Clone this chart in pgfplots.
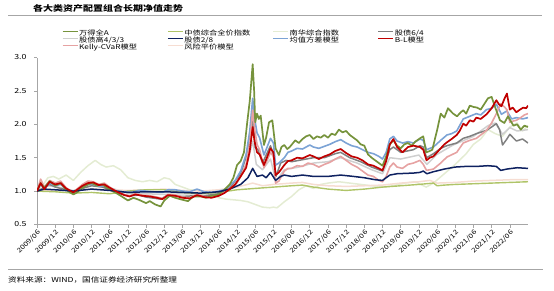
\documentclass[border=0pt]{standalone}
\usepackage{fontspec}
\setmainfont{Noto Sans CJK SC}[FakeStretch=1.25]
\usepackage{pgfplots}
\pgfplotsset{compat=1.18}
\definecolor{cWande}{HTML}{76933C}
\definecolor{cZhongzhai}{HTML}{AFC468}
\definecolor{cNanhua}{HTML}{E4ECD3}
\definecolor{cSixfour}{HTML}{808080}
\definecolor{cFourthree}{HTML}{CFCFCF}
\definecolor{cTwoeight}{HTML}{0E2160}
\definecolor{cMv}{HTML}{7CA3D5}
\definecolor{cBL}{HTML}{C00000}
\definecolor{cKelly}{HTML}{E6A2A2}
\definecolor{cRp}{HTML}{F6DDD2}
\definecolor{axgray}{HTML}{A6A6A6}
\begin{document}
\begin{tikzpicture}
\useasboundingbox (0pt,0pt) rectangle (554pt,290pt);
\node[anchor=west, inner sep=0pt, font=\fontsize{8}{8}\selectfont\bfseries] at (33pt,282pt) {各大类资产配置组合长期净值走势};
\draw[axgray, line width=0.9pt] (8pt,275pt) -- (542pt,275pt);
\draw[axgray, line width=0.9pt] (8pt,21pt) -- (543pt,21pt);
\node[anchor=west, inner sep=0pt, font=\fontsize{6.9}{6.9}\selectfont] at (8pt,10pt) {资料来源：WIND，国信证券经济研究所整理};
\begin{axis}[
  at={(37pt,65.5pt)}, anchor=south west,
  scale only axis, width=491pt, height=167pt,
  xmin=0, xmax=13.5, ymin=0.5, ymax=3.0,
  axis x line=bottom, axis y line=left,
  axis line style={draw=axgray, line width=0.7pt, -},
  tick align=outside, major tick length=3pt,
  tick style={axgray, line width=0.6pt},
  xtick={0,0.5,1,1.5,2,2.5,3,3.5,4,4.5,5,5.5,6,6.5,7,7.5,8,8.5,9,9.5,10,10.5,11,11.5,12,12.5,13},
  xticklabels={2009/06,2009/12,2010/06,2010/12,2011/06,2011/12,2012/06,2012/12,2013/06,2013/12,2014/06,2014/12,2015/06,2015/12,2016/06,2016/12,2017/06,2017/12,2018/06,2018/12,2019/06,2019/12,2020/06,2020/12,2021/06,2021/12,2022/06},
  xticklabel style={rotate=45, anchor=north east, font=\fontsize{6.4}{6.4}\selectfont, inner sep=1pt},
  ytick={0.5,1,1.5,2,2.5,3},
  yticklabel style={font=\fontsize{7}{7}\selectfont, xshift=-4pt},
  /pgf/number format/.cd, fixed, fixed zerofill, precision=1, assume math mode=true,
  /pgfplots/.cd,
  legend columns=4,
  legend cell align=left,
  legend image code/.code={\draw[#1] (0pt,2.2pt) -- (15pt,2.2pt); \path (16pt,0pt);},
  legend style={at={(0.0509,1.1587)}, anchor=north west, draw=none, fill=none,
    inner sep=0pt, outer sep=0pt, row sep=1.1pt, column sep=0pt,
    font=\fontsize{6.6}{6.6}\selectfont,
    nodes={inner sep=0pt, text height=4.6pt, text depth=1.1pt, text width=88pt, align=left}},
  every axis plot/.append style={line join=round},
]
\addlegendimage{cWande, line width=1.2pt}\addlegendentry{万得全A}
\addlegendimage{cZhongzhai, line width=1.2pt}\addlegendentry{中债综合全价指数}
\addlegendimage{cNanhua, line width=1.2pt}\addlegendentry{南华综合指数}
\addlegendimage{cSixfour, line width=1.2pt}\addlegendentry{股债6/4}
\addlegendimage{cFourthree, line width=1.2pt}\addlegendentry{股债高4/3/3}
\addlegendimage{cTwoeight, line width=1.2pt}\addlegendentry{股债2/8}
\addlegendimage{cMv, line width=1.2pt}\addlegendentry{均值方差模型}
\addlegendimage{cBL, line width=1.2pt}\addlegendentry{B-L模型}
\addlegendimage{cKelly, line width=1.2pt}\addlegendentry{Kelly-CVaR模型}
\addlegendimage{cRp, line width=1.2pt}\addlegendentry{风险平价模型}

% 南华综合指数
\addplot[forget plot, cNanhua, line width=1.5pt] coordinates {
(0,1.00)(0.15,1.08)(0.3,1.20)(0.45,1.22)(0.6,1.18)(0.8,1.24)(1.0,1.16)(1.2,1.28)(1.4,1.38)(1.6,1.46)(1.75,1.40)(1.9,1.36)(2.1,1.38)(2.3,1.32)(2.5,1.20)(2.7,1.16)(2.9,1.14)(3.1,1.16)(3.3,1.14)(3.5,1.20)(3.65,1.18)(3.8,1.10)(4.0,1.06)(4.2,1.02)(4.4,1.01)(4.6,0.98)(4.8,0.94)(5.0,0.90)(5.2,0.88)(5.4,0.87)(5.6,0.86)(5.8,0.84)(6.0,0.80)(6.2,0.76)(6.4,0.75)(6.5,0.76)(6.6,0.75)(6.8,0.84)(7.0,0.92)(7.2,1.02)(7.4,1.08)(7.6,1.04)(7.8,1.10)(8.0,1.12)(8.3,1.14)(8.6,1.12)(8.9,1.10)(9.2,1.08)(9.5,1.06)(9.8,1.08)(10.1,1.12)(10.4,1.14)(10.7,1.06)(10.9,1.12)(11.2,1.26)(11.5,1.40)(11.8,1.56)(12.0,1.70)(12.2,1.78)(12.4,1.92)(12.6,1.86)(12.8,1.82)(13.0,1.96)(13.2,2.02)(13.35,1.90)(13.5,1.98)};
% 股债高4/3/3
\addplot[forget plot, cFourthree, line width=1.5pt] coordinates {
(0,1.00)(0.3,1.08)(0.6,1.06)(1.0,1.00)(1.5,1.10)(2.0,1.05)(2.5,0.97)(3.0,0.96)(3.5,0.95)(4.0,0.96)(4.5,0.96)(5.0,0.97)(5.5,1.12)(5.8,1.45)(5.93,1.75)(6.03,1.40)(6.2,1.32)(6.42,1.48)(6.57,1.15)(6.8,1.32)(7.2,1.36)(7.6,1.42)(8.0,1.44)(8.35,1.50)(8.8,1.42)(9.2,1.32)(9.5,1.26)(9.7,1.50)(10.0,1.48)(10.5,1.54)(10.72,1.40)(11.0,1.55)(11.44,1.69)(12.0,1.82)(12.4,1.98)(12.6,2.02)(12.8,1.85)(13.0,1.95)(13.2,1.90)(13.5,1.92)};
% 风险平价
\addplot[forget plot, cRp, line width=1.5pt] coordinates {
(0,1.00)(0.5,1.02)(1.0,1.01)(1.5,1.03)(2.0,1.02)(2.5,1.01)(3.0,1.02)(3.5,1.03)(4.0,1.01)(4.5,1.00)(5.0,1.02)(5.5,1.06)(5.93,1.12)(6.2,1.08)(6.5,1.10)(7.0,1.12)(7.3,1.13)(7.6,1.10)(8.0,1.08)(8.5,1.07)(9.0,1.08)(9.5,1.09)(10.0,1.12)(10.5,1.14)(10.8,1.16)(11.0,1.12)(11.5,1.13)(12.0,1.15)(12.5,1.16)(13.0,1.17)(13.5,1.17)};
% 中债综合全价
\addplot[forget plot, cZhongzhai, line width=1.4pt] coordinates {
(0,1.00)(0.5,0.99)(1.0,0.97)(1.5,0.98)(2.0,0.96)(2.5,1.00)(3.0,1.02)(3.5,1.02)(4.0,0.98)(4.5,0.96)(5.0,0.98)(5.5,1.02)(6.0,1.04)(6.5,1.06)(7.0,1.08)(7.3,1.09)(7.6,1.06)(8.0,1.03)(8.5,1.01)(9.0,1.03)(9.5,1.06)(10.0,1.08)(10.5,1.10)(10.9,1.12)(11.0,1.08)(11.2,1.09)(11.5,1.10)(12.0,1.11)(12.5,1.12)(13.0,1.13)(13.5,1.14)};
% 股债6/4
\addplot[forget plot, cSixfour, line width=1.5pt] coordinates {
(0,1.00)(0.2,1.05)(0.35,1.10)(0.5,1.06)(0.8,1.02)(1.0,0.98)(1.25,1.04)(1.5,1.08)(1.8,1.06)(2.0,1.02)(2.3,0.96)(2.5,0.93)(2.8,0.94)(3.0,0.91)(3.4,0.88)(3.6,0.94)(4.0,0.92)(4.3,0.93)(4.6,0.93)(5.0,0.96)(5.3,1.05)(5.6,1.26)(5.8,1.60)(5.93,2.10)(6.0,1.65)(6.08,1.62)(6.2,1.42)(6.42,1.68)(6.5,1.55)(6.57,1.22)(6.7,1.42)(6.85,1.46)(7.0,1.44)(7.3,1.47)(7.6,1.50)(7.9,1.50)(8.2,1.56)(8.35,1.58)(8.6,1.50)(8.9,1.44)(9.2,1.36)(9.5,1.30)(9.7,1.62)(9.8,1.66)(10.0,1.58)(10.35,1.62)(10.53,1.68)(10.62,1.66)(10.71,1.50)(10.9,1.56)(11.1,1.64)(11.27,1.68)(11.54,1.72)(11.72,1.79)(11.9,1.82)(12.08,1.86)(12.36,1.91)(12.5,1.96)(12.63,2.01)(12.72,1.92)(12.8,1.69)(12.92,1.78)(13.0,1.85)(13.18,1.75)(13.35,1.78)(13.5,1.72)};
% 均值方差
\addplot[forget plot, cMv, line width=1.6pt] coordinates {
(0,1.00)(0.1,1.10)(0.2,1.04)(0.35,1.12)(0.5,1.08)(0.65,1.10)(0.8,1.03)(1.0,1.00)(1.25,1.06)(1.4,1.10)(1.55,1.10)(1.7,1.07)(1.85,1.08)(2.0,1.04)(2.2,1.00)(2.4,0.99)(2.6,0.98)(2.8,1.01)(3.0,1.00)(3.2,0.99)(3.45,0.98)(3.6,1.02)(3.8,1.02)(4.0,1.00)(4.2,0.99)(4.4,1.03)(4.6,0.99)(4.8,0.98)(5.0,1.00)(5.15,1.02)(5.3,1.08)(5.45,1.16)(5.6,1.30)(5.75,1.55)(5.85,1.90)(5.93,2.39)(5.98,2.10)(6.05,1.87)(6.12,1.80)(6.24,1.54)(6.32,1.65)(6.42,1.79)(6.5,1.72)(6.56,1.39)(6.65,1.42)(6.8,1.50)(6.9,1.58)(7.0,1.60)(7.15,1.64)(7.3,1.63)(7.5,1.69)(7.6,1.66)(7.75,1.64)(7.9,1.67)(8.05,1.70)(8.2,1.74)(8.35,1.77)(8.5,1.72)(8.65,1.68)(8.8,1.66)(8.95,1.62)(9.1,1.58)(9.25,1.56)(9.4,1.52)(9.5,1.48)(9.6,1.58)(9.7,1.78)(9.8,1.82)(9.9,1.75)(10.05,1.72)(10.2,1.74)(10.35,1.72)(10.53,1.78)(10.62,1.76)(10.71,1.62)(10.9,1.66)(11.1,1.76)(11.27,1.84)(11.4,1.86)(11.54,1.90)(11.72,2.08)(11.9,2.12)(12.08,2.16)(12.2,2.14)(12.36,2.22)(12.5,2.24)(12.63,2.30)(12.77,2.15)(12.92,2.20)(13.05,2.08)(13.18,2.10)(13.35,2.08)(13.5,2.10)};
% Kelly-CVaR
\addplot[forget plot, cKelly, line width=1.6pt] coordinates {
(0,1.00)(0.1,1.18)(0.2,1.06)(0.35,1.16)(0.5,1.12)(0.65,1.15)(0.8,1.05)(1.0,0.98)(1.1,1.03)(1.25,1.10)(1.4,1.15)(1.55,1.14)(1.7,1.10)(1.85,1.12)(2.0,1.06)(2.2,0.99)(2.4,0.95)(2.55,0.93)(2.7,0.96)(2.9,0.94)(3.1,0.93)(3.3,0.91)(3.45,0.89)(3.6,0.95)(3.8,0.94)(4.0,0.91)(4.2,0.90)(4.4,0.95)(4.6,0.92)(4.8,0.91)(5.0,0.94)(5.15,0.98)(5.3,1.04)(5.45,1.10)(5.6,1.22)(5.75,1.40)(5.85,1.72)(5.93,2.21)(5.98,1.95)(6.05,1.70)(6.12,1.62)(6.24,1.35)(6.32,1.45)(6.42,1.58)(6.5,1.52)(6.56,1.12)(6.65,1.15)(6.8,1.30)(6.9,1.34)(7.0,1.34)(7.15,1.38)(7.3,1.37)(7.45,1.42)(7.6,1.40)(7.75,1.36)(7.9,1.40)(8.05,1.43)(8.2,1.48)(8.35,1.52)(8.5,1.46)(8.65,1.40)(8.8,1.36)(8.95,1.30)(9.1,1.24)(9.25,1.22)(9.4,1.16)(9.5,1.14)(9.6,1.22)(9.7,1.36)(9.8,1.42)(9.9,1.36)(10.05,1.34)(10.2,1.40)(10.35,1.42)(10.53,1.46)(10.62,1.40)(10.71,1.31)(10.9,1.33)(11.1,1.42)(11.27,1.51)(11.54,1.58)(11.72,1.72)(11.9,1.76)(12.08,1.79)(12.2,1.84)(12.36,1.91)(12.5,2.02)(12.63,2.16)(12.75,2.31)(12.85,2.26)(12.92,2.22)(13.0,2.03)(13.1,2.05)(13.18,2.06)(13.3,2.10)(13.4,2.14)(13.5,2.16)};
% 万得全A
\addplot[forget plot, cWande, line width=1.7pt] coordinates {
(0,1.00)(0.1,1.12)(0.2,1.05)(0.35,1.15)(0.5,1.08)(0.65,1.12)(0.8,1.02)(1.0,0.95)(1.1,0.98)(1.25,1.05)(1.4,1.10)(1.5,1.12)(1.65,1.08)(1.8,1.10)(2.0,1.02)(2.15,0.98)(2.3,0.93)(2.5,0.86)(2.65,0.90)(2.8,0.87)(3.0,0.82)(3.1,0.85)(3.25,0.80)(3.4,0.77)(3.5,0.86)(3.65,0.93)(3.8,0.90)(4.0,0.87)(4.15,0.85)(4.3,0.92)(4.5,0.92)(4.65,0.90)(4.8,0.93)(5.0,0.95)(5.15,1.02)(5.3,1.10)(5.4,1.20)(5.5,1.39)(5.6,1.45)(5.69,1.58)(5.78,2.03)(5.85,2.35)(5.93,2.90)(5.97,2.50)(6.0,2.03)(6.05,2.16)(6.1,2.08)(6.15,2.13)(6.24,1.69)(6.3,1.80)(6.38,2.03)(6.47,2.06)(6.56,1.64)(6.65,1.54)(6.72,1.66)(6.8,1.69)(6.88,1.63)(6.95,1.66)(7.1,1.76)(7.2,1.72)(7.3,1.78)(7.4,1.82)(7.5,1.84)(7.6,1.78)(7.7,1.82)(7.8,1.80)(7.9,1.84)(8.0,1.80)(8.1,1.86)(8.2,1.84)(8.3,1.92)(8.4,1.88)(8.5,1.90)(8.6,1.84)(8.7,1.80)(8.8,1.76)(8.9,1.70)(9.0,1.68)(9.1,1.55)(9.2,1.50)(9.3,1.46)(9.4,1.42)(9.5,1.38)(9.6,1.52)(9.7,1.70)(9.8,1.76)(9.9,1.68)(10.0,1.64)(10.1,1.70)(10.2,1.72)(10.3,1.68)(10.4,1.74)(10.53,1.79)(10.62,1.82)(10.7,1.58)(10.8,1.60)(10.87,1.62)(10.95,1.80)(11.0,1.91)(11.1,2.16)(11.2,2.10)(11.3,2.24)(11.44,2.16)(11.55,2.12)(11.65,2.18)(11.72,2.21)(11.8,2.16)(11.9,2.28)(12.0,2.26)(12.1,2.25)(12.2,2.22)(12.27,2.28)(12.4,2.39)(12.5,2.41)(12.6,2.25)(12.73,2.06)(12.85,2.02)(12.95,2.12)(13.1,1.98)(13.2,2.00)(13.3,1.92)(13.4,1.98)(13.5,1.96)};
% 股债2/8
\addplot[forget plot, cTwoeight, line width=1.5pt] coordinates {
(0,1.00)(0.2,1.03)(0.5,1.02)(1.0,1.00)(1.5,1.03)(2.0,1.01)(2.5,0.98)(3.0,0.99)(3.5,0.99)(4.0,0.98)(4.5,0.97)(5.0,0.99)(5.3,1.03)(5.6,1.10)(5.8,1.20)(5.93,1.34)(6.05,1.22)(6.2,1.24)(6.3,1.20)(6.42,1.28)(6.56,1.16)(6.7,1.22)(6.8,1.24)(7.0,1.22)(7.3,1.24)(7.6,1.22)(8.0,1.22)(8.35,1.24)(8.7,1.22)(9.0,1.20)(9.3,1.17)(9.5,1.16)(9.7,1.24)(9.9,1.26)(10.35,1.27)(10.53,1.28)(10.62,1.30)(10.72,1.26)(10.9,1.29)(11.2,1.33)(11.5,1.36)(11.8,1.37)(12.1,1.37)(12.4,1.38)(12.63,1.37)(12.75,1.31)(12.92,1.33)(13.2,1.35)(13.5,1.34)};
% B-L
\addplot[forget plot, cBL, line width=1.7pt] coordinates {
(0,1.00)(0.1,1.12)(0.2,1.03)(0.35,1.14)(0.5,1.10)(0.65,1.12)(0.8,1.04)(1.0,0.98)(1.1,1.02)(1.25,1.08)(1.4,1.12)(1.55,1.13)(1.7,1.09)(1.85,1.10)(2.0,1.05)(2.2,0.99)(2.4,0.94)(2.55,0.92)(2.7,0.95)(2.9,0.93)(3.1,0.92)(3.3,0.90)(3.45,0.88)(3.6,0.94)(3.8,0.93)(4.0,0.90)(4.2,0.89)(4.4,0.94)(4.6,0.91)(4.8,0.90)(5.0,0.93)(5.15,0.97)(5.3,1.03)(5.45,1.10)(5.6,1.22)(5.75,1.35)(5.85,1.60)(5.93,1.96)(5.98,1.75)(6.05,1.58)(6.12,1.55)(6.24,1.39)(6.32,1.50)(6.42,1.64)(6.5,1.58)(6.56,1.24)(6.65,1.28)(6.8,1.39)(6.9,1.45)(7.0,1.46)(7.15,1.50)(7.3,1.49)(7.5,1.54)(7.6,1.52)(7.75,1.48)(7.9,1.52)(8.05,1.55)(8.2,1.60)(8.35,1.63)(8.5,1.57)(8.65,1.52)(8.8,1.50)(8.95,1.46)(9.1,1.40)(9.25,1.38)(9.4,1.34)(9.5,1.31)(9.6,1.45)(9.7,1.70)(9.8,1.78)(9.9,1.66)(10.05,1.58)(10.2,1.66)(10.35,1.68)(10.53,1.66)(10.62,1.62)(10.71,1.46)(10.8,1.50)(10.9,1.52)(11.0,1.58)(11.1,1.64)(11.2,1.70)(11.27,1.73)(11.4,1.78)(11.54,1.84)(11.62,1.90)(11.72,2.01)(11.8,1.98)(11.9,2.06)(12.0,2.04)(12.08,2.10)(12.2,2.08)(12.36,2.15)(12.5,2.24)(12.63,2.36)(12.7,2.30)(12.77,2.27)(12.85,2.38)(12.92,2.46)(13.0,2.22)(13.08,2.25)(13.18,2.18)(13.28,2.22)(13.37,2.25)(13.45,2.24)(13.5,2.28)};
\end{axis}
\end{tikzpicture}
\end{document}
